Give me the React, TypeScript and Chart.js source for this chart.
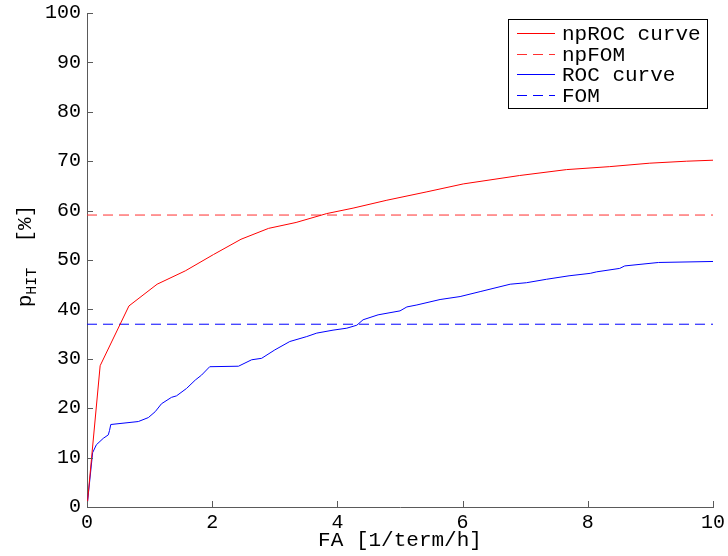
import React, { useEffect, useRef } from 'react';
import { Chart, registerables } from 'chart.js';

Chart.register(...registerables);

// ---- data ----
const npRocX = [0, 0.21, 0.67, 1.12, 1.57, 2.02, 2.46, 2.9, 3.34, 3.83, 4.25, 4.79, 5.43, 6.01, 6.91, 7.66, 8.35, 8.99, 9.58, 10];
const npRocY = [0, 28.6, 40.7, 45.1, 47.8, 51.1, 54.2, 56.4, 57.6, 59.4, 60.5, 62.1, 63.8, 65.4, 67.1, 68.3, 68.9, 69.6, 70.0, 70.2];

const rocX = [0, 0.09, 0.15, 0.26, 0.34, 0.36, 0.38, 0.82, 0.98, 1.09, 1.19, 1.35, 1.43, 1.59, 1.73, 1.83, 1.96, 2.42, 2.63, 2.79, 3.0, 3.24, 3.51, 3.67, 3.93, 4.15, 4.31, 4.41, 4.65, 5.0, 5.11, 5.27, 5.64, 5.96, 6.28, 6.76, 7.02, 7.34, 7.7, 8.04, 8.14, 8.51, 8.59, 9.13, 10.0];
const rocY = [0, 11, 12.6, 13.9, 14.6, 15.5, 16.7, 17.3, 18.1, 19.3, 20.9, 22.2, 22.5, 24.0, 25.7, 26.7, 28.4, 28.5, 29.8, 30.1, 31.8, 33.5, 34.5, 35.2, 35.8, 36.2, 36.8, 37.9, 38.9, 39.7, 40.5, 40.9, 42.0, 42.6, 43.6, 45.1, 45.4, 46.1, 46.8, 47.3, 47.6, 48.3, 48.8, 49.5, 49.7];

const npFomY = 59.1;
const fomY = 37.0;

const xRange = [0, 10];
const yRange = [0, 100];
const xStep = 2;
const yStep = 10;

const seriesLabels = ['npROC curve', 'npFOM', 'ROC curve', 'FOM'];
const xTitle = 'FA [1/term/h]';
const yTitleMain = 'p';
const yTitleSub = 'HIT';
const yTitleRest = '  [%]';

const MONO = '"Liberation Mono", "Courier New", monospace';
const AXIS_COLOR = '#5a5a5a';

const toPoints = (xs: number[], ys: number[]) => xs.map((x, i) => ({ x, y: ys[i] }));
const hLine = (y: number) => [{ x: xRange[0], y }, { x: xRange[1], y }];

const decorPlugin = {
  id: 'matlabDecor',
  afterDraw(chart: any) {
    const ctx = chart.ctx as CanvasRenderingContext2D;
    const ca = chart.chartArea;
    const xs = chart.scales.x;
    const ys = chart.scales.y;
    ctx.save();

    // inward tick marks
    ctx.strokeStyle = AXIS_COLOR;
    ctx.lineWidth = 1;
    ctx.setLineDash([]);
    ctx.beginPath();
    xs.ticks.forEach((t: any) => {
      const px = Math.round(xs.getPixelForValue(t.value)) + 0.5;
      ctx.moveTo(px, ca.bottom);
      ctx.lineTo(px, ca.bottom - 6);
    });
    ys.ticks.forEach((t: any) => {
      const py = Math.round(ys.getPixelForValue(t.value)) + 0.5;
      ctx.moveTo(ca.left, py);
      ctx.lineTo(ca.left + 6, py);
    });
    ctx.stroke();

    // x title
    ctx.fillStyle = '#000';
    ctx.font = `21px ${MONO}`;
    ctx.textAlign = 'center';
    ctx.textBaseline = 'alphabetic';
    ctx.fillText(xTitle, (ca.left + ca.right) / 2, 546);

    // y title with subscript, rotated
    const mainFont = `21px ${MONO}`;
    const subFont = `15px ${MONO}`;
    ctx.font = mainFont;
    const wMain = ctx.measureText(yTitleMain).width;
    const wRest = ctx.measureText(yTitleRest).width;
    ctx.font = subFont;
    const wSub = ctx.measureText(yTitleSub).width;
    const total = wMain + wSub + wRest;
    ctx.translate(31, (ca.top + ca.bottom) / 2 - 4);
    ctx.rotate(-Math.PI / 2);
    ctx.textAlign = 'left';
    let cx = -total / 2;
    ctx.font = mainFont;
    ctx.fillText(yTitleMain, cx, 0);
    cx += wMain;
    ctx.font = subFont;
    ctx.fillText(yTitleSub, cx, 5);
    cx += wSub;
    ctx.font = mainFont;
    ctx.fillText(yTitleRest, cx, 0);
    ctx.restore();

    // legend box
    ctx.save();
    const boxRight = ca.right - 6;
    const boxLeft = boxRight - 199;
    const boxTop = ca.top + 6;
    const boxH = 89;
    ctx.fillStyle = '#fff';
    ctx.fillRect(boxLeft, boxTop, boxRight - boxLeft, boxH);
    ctx.strokeStyle = '#000';
    ctx.lineWidth = 1;
    ctx.setLineDash([]);
    ctx.strokeRect(boxLeft + 0.5, boxTop + 0.5, boxRight - boxLeft, boxH);
    const rowYs = [14, 35, 55, 76];
    chart.data.datasets.forEach((ds: any, i: number) => {
      const y = Math.round(boxTop + rowYs[i]) + 0.5;
      ctx.strokeStyle = ds.borderColor;
      ctx.lineWidth = 1;
      ctx.setLineDash(ds.borderDash || []);
      ctx.beginPath();
      ctx.moveTo(boxLeft + 9, y);
      ctx.lineTo(boxLeft + 47, y);
      ctx.stroke();
      ctx.setLineDash([]);
      ctx.fillStyle = '#000';
      ctx.font = `21px ${MONO}`;
      ctx.textAlign = 'left';
      ctx.textBaseline = 'middle';
      ctx.fillText(ds.label, boxLeft + 54, y + 1);
    });
    ctx.restore();
  },
};

export default function App() {
  const ref = useRef<HTMLCanvasElement>(null);
  useEffect(() => {
    document.body.style.margin = '0';
    const canvas = ref.current!;
    const chart = new Chart(canvas, {
      type: 'line',
      data: {
        datasets: [
          { label: seriesLabels[0], data: toPoints(npRocX, npRocY), borderColor: '#ff0000', borderWidth: 1, pointRadius: 0, tension: 0, fill: false },
          { label: seriesLabels[1], data: hLine(npFomY), borderColor: '#ff3030', borderWidth: 1, borderDash: [10, 6], pointRadius: 0, fill: false },
          { label: seriesLabels[2], data: toPoints(rocX, rocY), borderColor: '#0000ff', borderWidth: 1, pointRadius: 0, tension: 0, fill: false },
          { label: seriesLabels[3], data: hLine(fomY), borderColor: '#0000ff', borderWidth: 1, borderDash: [10, 6], pointRadius: 0, fill: false },
        ],
      },
      options: {
        responsive: false,
        animation: false,
        devicePixelRatio: 1,
        layout: { padding: { top: 13, right: 15, left: 0, bottom: 0 } },
        plugins: { legend: { display: false }, tooltip: { enabled: false } },
        scales: {
          x: {
            type: 'linear',
            min: xRange[0],
            max: xRange[1],
            afterFit: (s: any) => { s.height = 49; s.paddingLeft = 0; s.paddingRight = 0; },
            ticks: { stepSize: xStep, color: '#000', font: { family: MONO, size: 20 }, padding: 4, maxRotation: 0 },
            grid: { display: true, drawOnChartArea: false, drawTicks: false },
            border: { display: true, color: AXIS_COLOR, width: 1 },
          },
          y: {
            type: 'linear',
            min: yRange[0],
            max: yRange[1],
            afterFit: (s: any) => { s.width = 87; s.paddingTop = 0; s.paddingBottom = 0; },
            ticks: { stepSize: yStep, color: '#000', font: { family: MONO, size: 20 }, padding: 6 },
            grid: { display: true, drawOnChartArea: false, drawTicks: false },
            border: { display: true, color: AXIS_COLOR, width: 1 },
          },
        },
      },
      plugins: [decorPlugin],
    });
    return () => chart.destroy();
  }, []);
  return (
    <div style={{ width: 728, height: 556 }}>
      <canvas ref={ref} width={728} height={556} style={{ display: 'block' }} />
    </div>
  );
}
